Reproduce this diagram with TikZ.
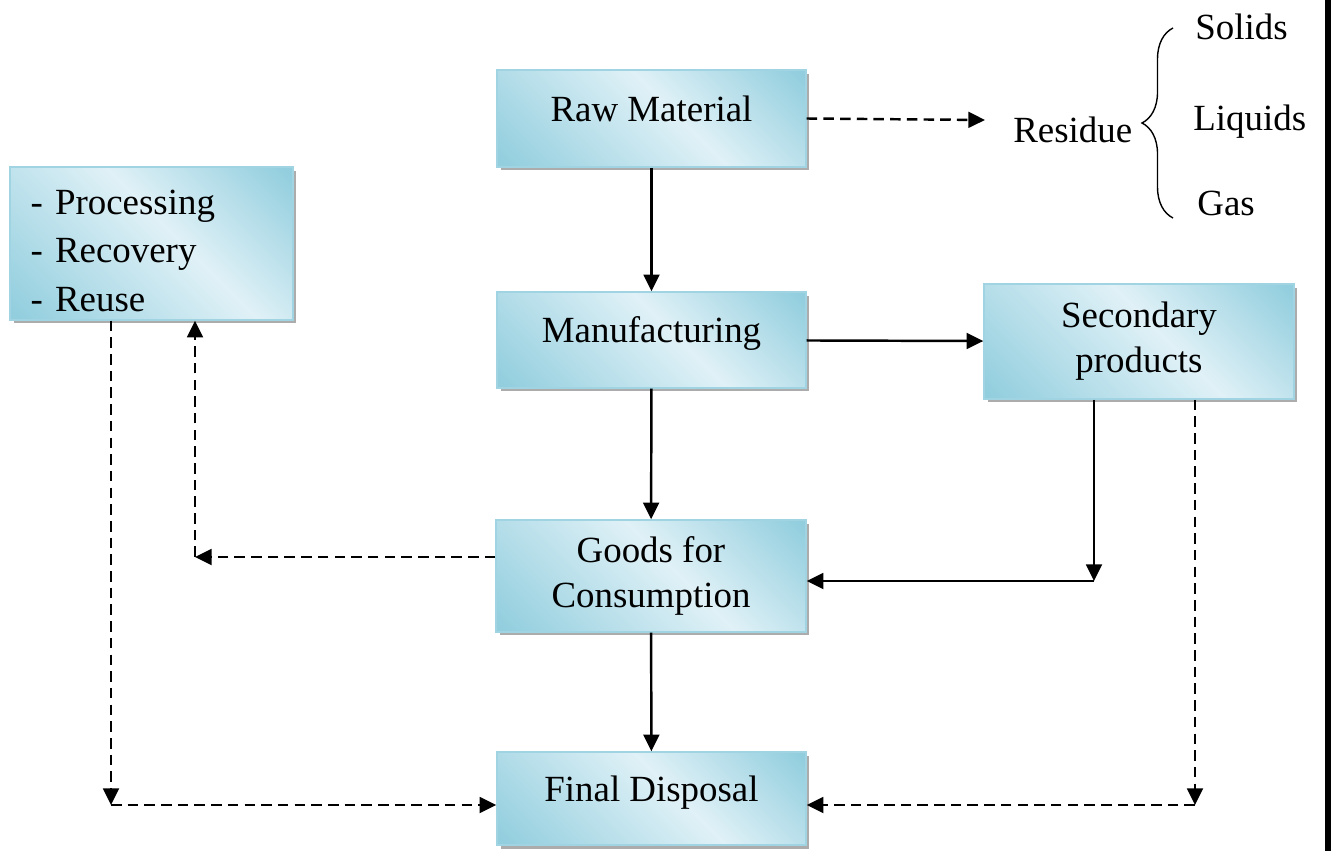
\documentclass[tikz,border=0pt]{standalone}
\usepackage{fontspec}
\setmainfont{Liberation Serif}
\usetikzlibrary{arrows.meta,shadows,decorations.pathreplacing}
\definecolor{boxdark}{RGB}{146,206,222}
\definecolor{boxlight}{RGB}{224,241,247}
\definecolor{boxedge}{RGB}{160,212,226}
\pgfdeclarehorizontalshading{boxshade}{100bp}{color(0bp)=(boxdark); color(16bp)=(boxdark); color(55bp)=(boxlight); color(84bp)=(boxdark); color(100bp)=(boxdark)}

\begin{document}
\begin{tikzpicture}[x=0.02cm,y=-0.02cm]
\tikzstyle{procbox}=[rectangle, shading=boxshade, shading angle=45, draw=boxedge, line width=0.8pt, drop shadow={shadow xshift=0.07cm, shadow yshift=-0.07cm, fill=gray!65, opacity=1}, font=\fontsize{21}{25.5}\selectfont, align=center, inner sep=0pt]
\tikzstyle{onebox}=[procbox, text depth=0.4cm]
\tikzstyle{flow}=[line width=1.4pt, -{Triangle[length=9.5pt,width=9pt]}]
\tikzstyle{dflow}=[flow, dash pattern=on 6pt off 3.5pt]
\tikzstyle{lbl}=[font=\fontsize{21}{25.5}\selectfont, inner sep=0pt, anchor=base west]
\useasboundingbox (0,0) rectangle (1331,851);
% boxes
\node (raw) [onebox, minimum width=6.18cm, minimum height=1.94cm] at (651.5,118.5) {Raw Material};
\node (manuf) [onebox, minimum width=6.18cm, minimum height=1.92cm] at (651.5,340) {Manufacturing};
\node (second) [procbox, minimum width=6.2cm, minimum height=2.3cm] at (1139,341.5) {Secondary\\products};
\node (goods) [procbox, minimum width=6.2cm, minimum height=2.24cm] at (651,576) {Goods for\\Consumption};
\node (final) [onebox, minimum width=6.18cm, minimum height=1.86cm] at (651.5,798.5) {Final Disposal};
\node (proc) [procbox, font=\fontsize{21}{27.5}\selectfont, align=left, text width=4.84cm, inner xsep=0.41cm, minimum height=3.06cm, text height=0.78cm] at (151.5,243.5) {- Processing\\- Recovery\\- Reuse};
% residue
\node (resid) [lbl] at (1013,143) {Residue};
\node (solid) [lbl] at (1195,40) {Solids};
\node (liquid) [lbl] at (1193,131) {Liquids};
\node (gas) [lbl] at (1197,215) {Gas};
\coordinate (braceb) at (1173,218);
\coordinate (bracet) at (1173,28);
\draw [decorate, decoration={brace, amplitude=0.62cm}, line width=0.8pt] (braceb) -- (bracet);
% connectors
\coordinate (resarrow) at (985,120);
\draw [dflow] (raw.east) -- (resarrow);
\draw [flow] (raw) -- (manuf);
\draw [flow] (manuf) -- (second);
\draw [flow] (manuf) -- (goods);
\draw [flow] (goods) -- (final);
\coordinate (sg) at (1094,581);
\draw [flow] (second.south -| sg) -- (sg);
\draw [flow] (sg) -- (sg -| goods.east);
\coordinate (sf) at (1195,805);
\draw [dflow] (second.south -| sf) -- (sf);
\draw [dflow] (sf) -- (sf -| final.east);
\coordinate (gp) at (195,557);
\draw [dflow] (goods.west |- gp) -- (gp);
\draw [dflow] (gp) -- (gp |- proc.south);
\coordinate (pf) at (111,805);
\draw [dflow] (proc.south -| pf) -- (pf);
\draw [dflow] (pf) -- (pf -| final.west);
% edge strip
\fill (1325,0) rectangle (1331,851);
\end{tikzpicture}
\end{document}
